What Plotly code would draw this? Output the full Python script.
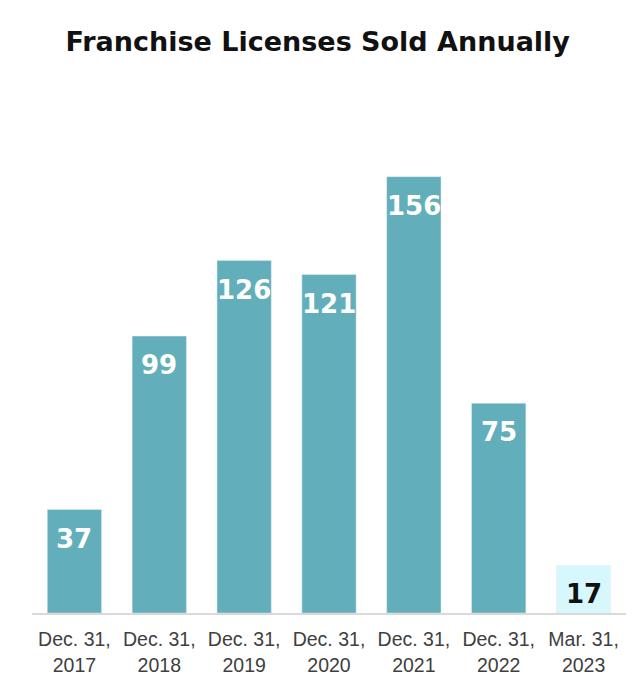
import plotly.graph_objects as go

# data
periods = ["Dec. 31,<br>2017", "Dec. 31,<br>2018", "Dec. 31,<br>2019", "Dec. 31,<br>2020",
           "Dec. 31,<br>2021", "Dec. 31,<br>2022", "Mar. 31,<br>2023"]
licenses = [37, 99, 126, 121, 156, 75, 17]
partial = [False, False, False, False, False, False, True]  # last one is a quarter only

TEAL = "#62AFBB"
LIGHT = "#D6F7FB"
bar_colors = [LIGHT if p else TEAL for p in partial]
label_colors = ["#111111" if p else "#FFFFFF" for p in partial]

fig = go.Figure(go.Bar(
    x=periods, y=licenses, marker_color=bar_colors, width=0.64,
    hoverinfo="x+y",
))

# value labels sit just under the top of each bar
for x, v, c in zip(periods, licenses, label_colors):
    fig.add_annotation(x=x, y=v, text=f"<b>{v}</b>", showarrow=False,
                       yanchor="middle", yshift=-29,
                       font=dict(family="DejaVu Sans, sans-serif", size=26, color=c))

# page body adds an 8px offset, margins compensate for it
fig.update_layout(
    width=640, height=688,
    plot_bgcolor="white", paper_bgcolor="white",
    margin=dict(l=24, r=22, t=92, b=83),
    showlegend=False,
    title=dict(text="<b>Franchise Licenses Sold Annually</b>", x=0.484, xanchor="center",
               y=0.951, yanchor="middle",
               font=dict(family="DejaVu Sans, sans-serif", size=27, color="#111111")),
)
fig.update_xaxes(showline=True, linecolor="#D9D9D9", linewidth=2, ticks="",
                 ticklabelstandoff=8,
                 tickfont=dict(family="Liberation Sans, Arial, sans-serif", size=19.5, color="#404040"))
fig.update_yaxes(visible=False, range=[0, 183.4])

fig.write_html("out.html")
